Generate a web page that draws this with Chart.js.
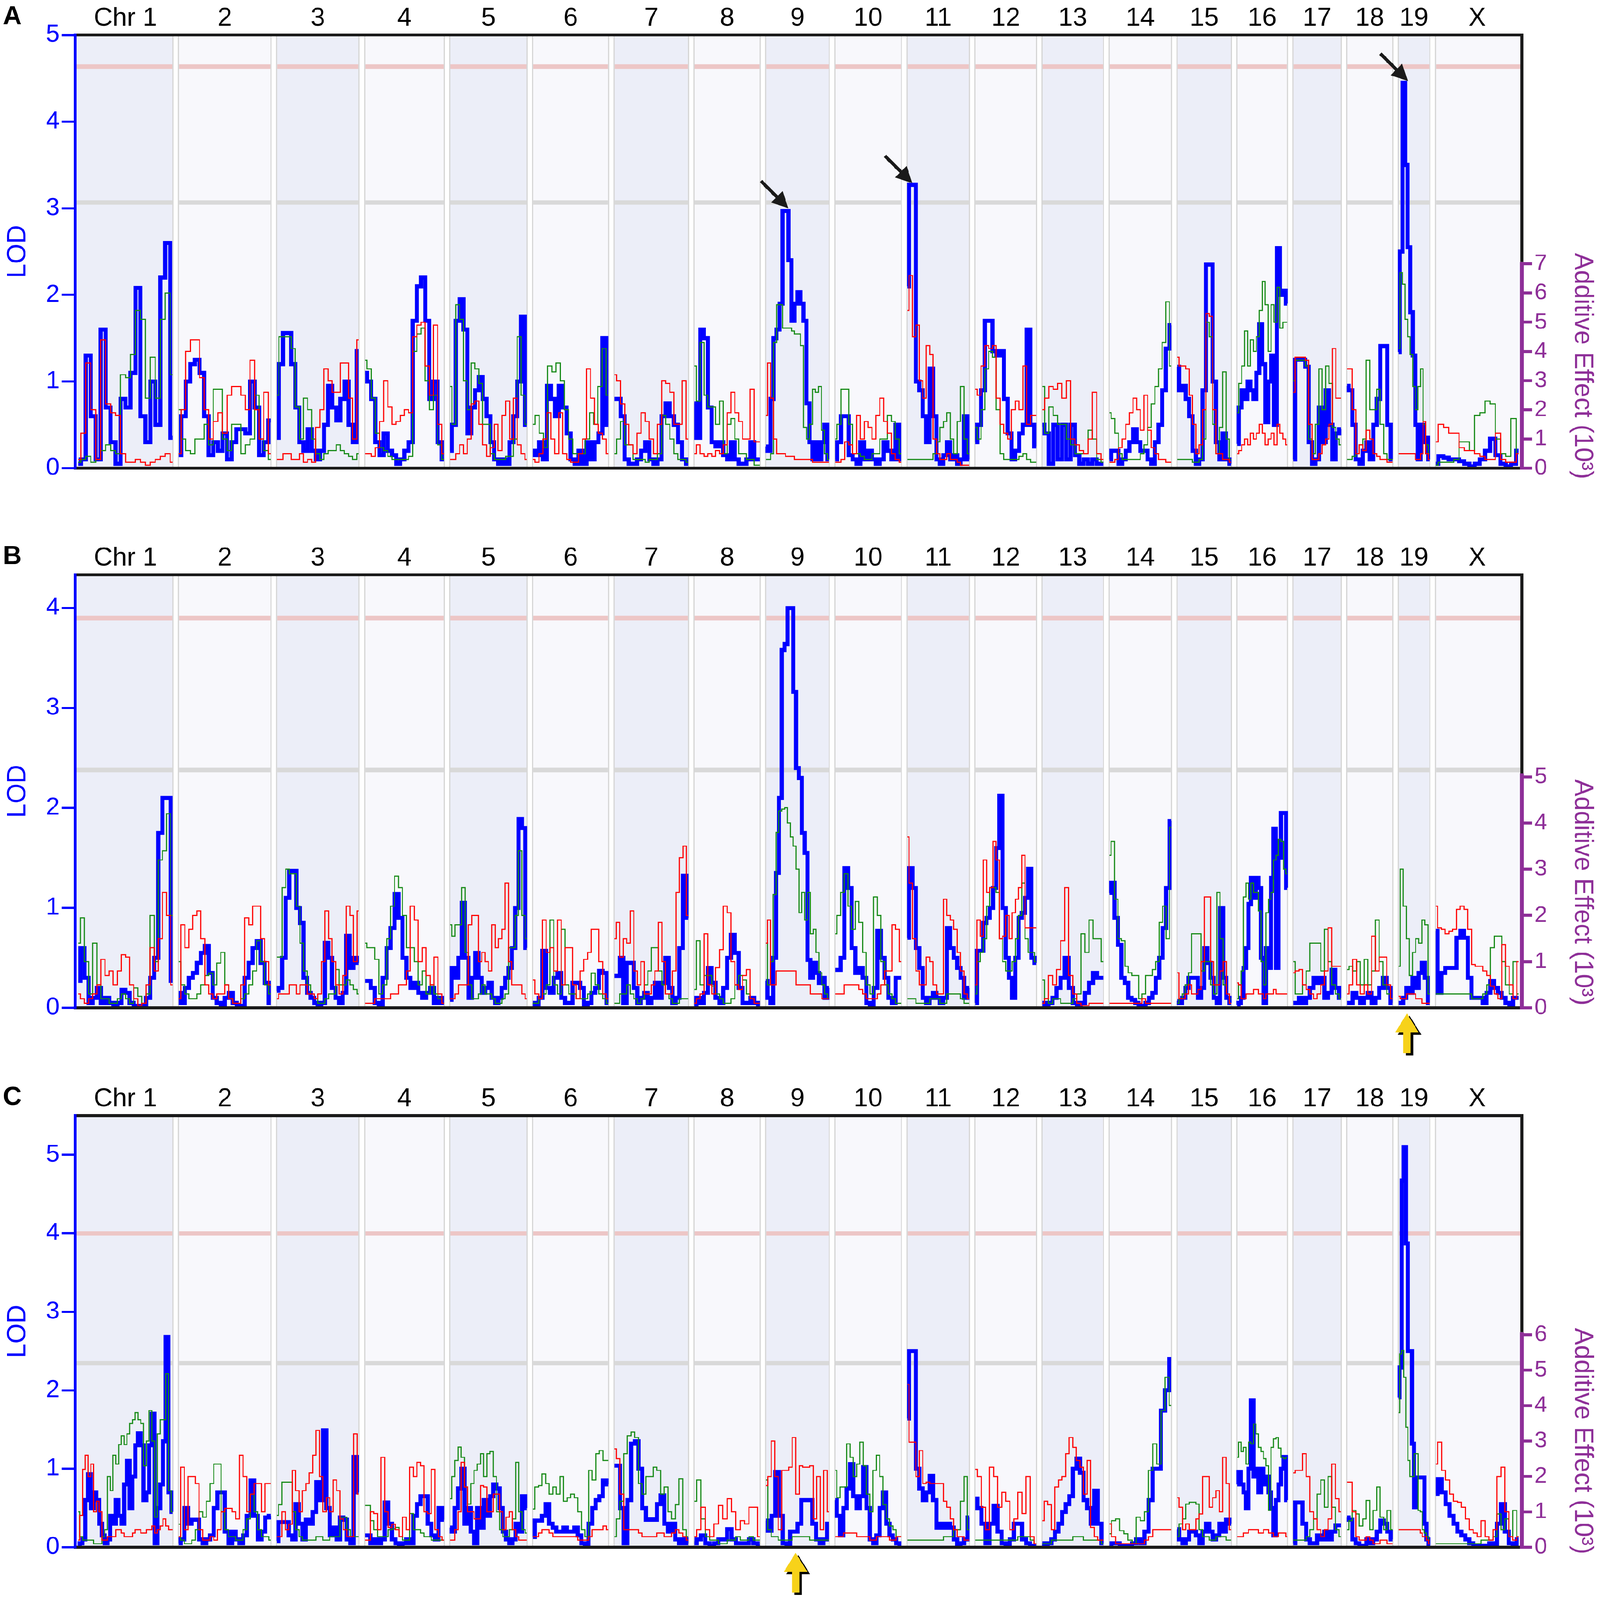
<!DOCTYPE html>
<html>
<head>
<meta charset="utf-8">
<title>LOD scans</title>
<script src="https://cdn.jsdelivr.net/npm/chart.js@4.4.1/dist/chart.umd.min.js"></script>
<style>
  html, body { margin: 0; padding: 0; background: #fff; overflow: hidden; }
  #page { position: absolute; left: 0; top: 0; width: 4317px; height: 4337px; transform-origin: 0 0; }
  #page canvas { position: absolute; left: 0; }
</style>
</head>
<body>
<div id="page">
<canvas id="chartA" width="4317" height="1445" style="top:0px;width:4317px;height:1445px"></canvas>
<canvas id="chartB" width="4317" height="1445" style="top:1445px;width:4317px;height:1445px"></canvas>
<canvas id="chartC" width="4317" height="1447" style="top:2890px;width:4317px;height:1447px"></canvas>
</div>
<script>
// chromosome labels and lengths (x axis units, roughly Mb)
const chrNames = ['Chr 1','2','3','4','5','6','7','8','9','10','11','12','13','14','15','16','17','18','19','X'];
const chrLengths = [195,190,171,165,161,158,155,139,134,140,132,130,130,132,116,109,104,100,72,173];

// panel A: LOD (blue) and additive effects x10^3 (red, green), one array per chromosome
const lodA = [
  [0.05,0.1,1.3,0.6,0.1,1.6,0.7,0.3,0.05,0.8,0.7,1.1,2.08,0.6,0.3,1.0,0.5,2.2,2.6,0.35],
  [0.15,0.6,1.0,1.2,1.25,1.1,0.6,0.15,0.3,0.2,0.4,0.1,0.3,0.45,0.45,0.4,1.0,0.7,0.15,0.3,0.55],
  [0.35,1.2,1.56,1.56,1.2,0.7,0.3,0.2,0.45,0.2,0.1,0.2,0.5,0.95,0.7,0.55,0.8,1.0,0.5,0.3,1.35],
  [1.1,1.0,0.8,0.3,0.15,0.4,0.2,0.15,0.05,0.1,0.2,0.3,1.7,2.1,2.2,1.7,0.8,1.0,0.3,0.1],
  [0.2,0.5,1.7,1.95,1.6,0.4,0.7,0.9,1.05,0.8,0.6,0.3,0.1,0.05,0.1,0.05,0.3,0.6,1.0,1.75,0.5],
  [0.2,0.15,0.3,0.1,0.95,0.8,0.6,0.95,0.7,0.4,0.1,0.05,0.2,0.05,0.3,0.1,0.3,0.4,1.5,0.5],
  [0.8,0.8,0.6,0.1,0.05,0.05,0.1,0.2,0.3,0.1,0.05,0.1,0.6,0.75,0.6,0.5,0.3,0.1,0.05],
  [0.75,0.35,1.6,1.5,0.7,0.3,0.25,0.3,0.15,0.1,0.3,0.1,0.05,0.05,0.1,0.3,0.1,0.1],
  [0.25,0.2,0.8,1.5,1.6,1.9,2.97,2.97,2.4,1.7,1.9,2.03,1.9,1.7,0.75,0.3,0.1,0.3,0.1,0.3,0.5,0.1],
  [0.1,0.3,0.6,0.6,0.15,0.1,0.05,0.3,0.1,0.2,0.1,0.05,0.1,0.3,0.2,0.1,0.5,0.1],
  [2.1,3.27,3.27,1.0,0.9,0.6,0.3,1.15,0.6,0.1,0.05,0.15,0.3,0.1,0.15,0.05,0.1,0.6,0.1],
  [0.3,0.5,0.9,1.7,1.7,1.35,1.3,1.35,0.8,0.4,0.1,0.2,0.4,0.5,1.6,0.5,0.25],
  [0.5,0.4,0.05,0.5,0.1,0.5,0.1,0.5,0.15,0.05,0.1,0.05,0.1,0.05,0.05],
  [0.1,0.2,0.2,0.05,0.1,0.2,0.3,0.45,0.3,0.2,0.2,0.1,0.05,0.3,0.5,0.9,1.38,1.65],
  [1.17,0.9,0.95,0.8,0.6,0.2,0.05,0.1,0.9,2.35,2.35,1.0,0.3,0.1,0.4,0.1,0.05],
  [0.28,0.7,0.9,0.8,1.0,0.9,0.8,1.1,1.66,1.2,0.53,1.0,1.3,0.5,2.54,2.0,2.05,1.9],
  [0.1,1.25,1.25,1.25,1.17,0.3,0.05,0.1,0.7,0.3,0.9,0.5,0.1,0.4,0.45],
  [0.95,0.9,0.5,0.1,0.05,0.2,0.3,0.1,0.5,0.8,1.41,1.41,0.5,0.1],
  [1.34,2.5,4.45,3.5,2.55,1.8,1.3,0.5,0.1,0.5,0.3,0.35,0.1],
  [0.05,0.14,0.12,0.1,0.1,0.08,0.05,0.02,0.05,0.1,0.2,0.34,0.15,0.05,0.02,0.05,0.2]
];
const redA = [
  [0.3,1.2,3.6,2.0,0.3,4.4,2.2,1.9,1.8,0.5,0.2,0.2,0.3,0.2,0.1,0.2,0.3,0.4,0.5,0.2],
  [0.5,2.0,4.0,4.4,4.4,3.1,2.0,1.0,1.6,1.9,1.2,2.5,2.8,2.8,2.5,2.0,3.7,2.0,1.0,2.6,0.5],
  [0.3,0.3,0.5,0.5,0.3,0.3,0.5,0.2,0.3,0.2,1.4,2.0,3.4,3.0,2.6,2.6,3.6,3.6,2.4,1.0,4.4],
  [0.5,0.5,0.4,0.7,1.6,3.0,2.1,1.5,1.6,1.8,2.0,1.9,4.5,4.9,5.0,3.5,2.5,4.9,1.5,0.5],
  [0.3,0.3,0.5,0.8,0.5,1.0,2.2,2.3,1.5,0.8,0.4,0.7,1.5,0.6,1.8,2.3,1.0,2.4,0.8,0.5,0.3],
  [0.3,0.2,0.5,1.0,1.9,1.0,0.5,1.9,0.5,0.3,0.2,0.2,0.5,1.0,3.4,2.4,1.5,1.2,1.0,0.5],
  [3.2,3.0,2.2,1.5,0.8,0.5,1.2,1.9,1.6,1.0,0.5,1.5,3.0,2.9,2.6,1.5,1.5,3.0,1.0],
  [0.5,0.8,0.5,0.4,0.5,0.4,0.6,0.5,0.8,1.9,2.6,1.9,1.6,1.0,1.0,2.7,0.9,0.9],
  [1.8,3.6,2.4,1.0,0.5,0.5,0.5,0.4,0.4,0.4,0.3,0.3,0.3,0.3,0.3,0.3,0.2,0.2,0.2,0.2,0.2,0.2],
  [0.2,0.2,0.3,0.9,0.8,0.5,1.8,1.0,1.6,1.4,1.0,1.8,2.4,1.6,1.2,0.5,0.3,0.2],
  [5.4,6.6,4.5,4.9,3.0,2.4,4.2,3.9,1.0,0.5,0.3,0.3,0.5,0.3,0.3,0.2,0.1,0.1,0.1],
  [2.7,2.5,3.5,4.2,4.1,4.2,2.4,1.5,1.2,1.0,2.0,2.3,2.0,3.5,1.5,1.8,1.8],
  [2.0,2.4,2.8,2.7,2.9,2.4,3.0,1.0,0.8,0.6,0.5,1.0,2.6,0.5,0.3],
  [0.2,0.2,0.3,0.7,1.0,1.5,1.9,2.4,2.0,1.3,2.5,1.3,0.7,0.5,0.3,0.3,0.2,0.2],
  [3.8,3.5,3.5,3.4,2.5,1.5,0.5,0.8,2.0,5.3,5.2,2.0,0.5,0.5,0.3,0.3,0.2],
  [0.5,0.6,0.8,1.0,0.8,1.2,1.0,1.2,1.5,1.2,0.8,1.0,1.2,0.8,1.5,1.2,1.0,0.8],
  [2.6,3.8,3.8,3.8,3.7,1.5,0.3,0.3,0.5,0.8,1.0,1.5,4.1,2.4,2.4],
  [3.4,3.4,2.0,0.5,0.8,0.6,1.3,1.0,0.5,0.4,0.3,0.3,0.2,0.2],
  [0.5,0.5,0.5,0.5,0.5,0.5,0.5,0.3,0.3,0.5,1.6,0.5,0.3],
  [0.9,1.5,1.4,1.2,1.2,0.7,0.6,0.6,0.5,0.4,0.3,0.3,1.2,0.3,0.2,0.2,0.5]
];
const greenA = [
  [0.2,0.3,0.4,0.2,0.3,0.6,0.8,0.6,0.5,3.2,3.1,3.9,5.4,5.1,2.4,3.8,2.4,5.1,6.0,3.2],
  [2.0,1.0,0.6,0.5,1.0,1.0,1.5,0.8,2.7,2.7,1.0,0.6,1.5,1.5,0.5,0.8,1.0,2.5,1.0,0.6,0.3],
  [2.5,4.5,4.5,4.5,4.1,2.1,1.0,2.4,2.0,1.0,0.5,0.3,0.5,0.6,0.6,0.8,0.6,0.5,0.4,0.3,0.5],
  [3.7,3.4,2.4,1.2,0.7,0.6,0.4,0.3,0.3,0.3,0.3,0.4,4.0,4.6,4.8,3.0,2.0,2.5,0.8,0.3],
  [2.8,1.5,5.6,5.1,3.0,2.0,3.6,3.4,2.9,1.5,1.5,0.5,0.3,0.3,0.3,0.4,0.4,1.0,4.5,2.5,1.5],
  [1.5,1.8,1.2,0.7,3.5,3.3,3.6,3.0,2.0,1.0,0.5,0.5,0.5,1.0,1.9,1.5,2.8,4.1,2.5],
  [0.5,1.0,1.6,0.8,0.8,0.3,0.3,0.3,0.2,0.3,0.3,0.5,1.8,1.5,1.0,0.5,0.3,0.3,0.2],
  [3.5,2.3,4.3,2.5,2.1,2.1,1.5,2.3,0.5,1.5,1.7,1.0,0.5,0.5,0.3,0.3,0.1,0.1],
  [0.3,0.3,0.5,4.3,5.6,5.6,4.8,4.8,4.8,4.7,4.6,4.6,4.2,1.4,1.0,1.5,2.7,2.6,2.8,1.3,0.5,0.3],
  [1.0,1.5,2.7,2.7,1.5,0.5,0.5,0.4,0.3,0.3,0.5,0.5,1.0,1.0,1.8,1.6,1.0,0.5],
  [0.3,0.3,0.3,0.3,0.3,0.3,0.3,0.3,0.5,0.9,1.4,1.6,1.9,1.0,0.5,1.6,2.8,1.0,0.5],
  [1.4,1.0,2.0,3.4,4.0,3.8,2.0,0.5,0.3,0.3,0.3,0.3,0.4,0.5,0.3,0.2,0.2],
  [2.8,1.2,2.1,1.8,1.5,1.5,1.0,0.8,0.5,0.5,0.5,1.3,1.0,0.3,0.2],
  [1.9,1.7,1.2,0.5,0.3,0.3,0.3,0.3,0.3,0.5,0.8,1.4,2.2,2.8,3.4,4.3,5.7,3.5],
  [0.3,0.3,0.3,0.3,0.3,0.2,0.2,0.3,1.0,5.0,4.5,1.5,0.5,1.4,3.3,1.0,0.3],
  [1.9,2.9,3.5,4.7,3.5,4.4,4.0,4.5,5.4,6.4,5.6,4.0,5.6,5.0,6.2,4.8,5.0,5.0],
  [3.0,3.7,3.7,3.7,3.5,1.0,0.5,1.5,3.4,2.0,3.5,2.9,1.4,1.0,0.8],
  [0.3,0.3,0.4,0.5,0.8,1.0,3.7,2.0,2.0,2.7,1.5,0.5,0.3,0.3],
  [4.1,6.7,6.3,5.1,4.5,3.9,2.8,2.0,2.8,3.4,1.5,0.8,0.5],
  [0.1,0.2,0.2,0.2,0.3,0.9,0.9,0.6,1.8,1.9,2.3,2.2,1.0,0.5,0.4,1.7,0.5]
];

// panel B
const lodB = [
  [0.27,0.6,0.3,0.05,0.1,0.2,0.05,0.1,0.05,0.02,0.05,0.18,0.15,0.05,0.02,0.01,0.02,0.1,0.3,0.5,1.75,2.1,2.1,0.27],
  [0.15,0.05,0.2,0.3,0.35,0.45,0.55,0.62,0.35,0.1,0.05,0.02,0.1,0.15,0.05,0.02,0.02,0.3,0.45,0.6,0.67,0.45,0.25,0.05],
  [0.17,0.2,0.5,1.1,1.37,1.37,1.0,0.85,0.3,0.15,0.1,0.05,0.02,0.05,0.65,0.5,0.2,0.1,0.05,0.15,0.72,0.4,0.5,0.45],
  [0.27,0.27,0.2,0.05,0.02,0.3,0.6,0.8,1.14,0.9,0.5,0.3,0.2,0.25,0.15,0.1,0.15,0.2,0.05,0.1,0.05],
  [0.08,0.4,0.3,0.5,1.05,0.5,0.1,0.3,0.55,0.3,0.15,0.2,0.25,0.1,0.05,0.1,0.2,0.3,0.4,0.6,1.0,1.89,1.8,0.6],
  [0.05,0.02,0.1,0.57,0.2,0.15,0.3,0.35,0.1,0.05,0.05,0.25,0.25,0.2,0.02,0.05,0.15,0.2,0.37,0.35,0.05],
  [0.32,0.32,0.5,0.05,0.45,0.45,0.2,0.05,0.1,0.15,0.05,0.1,0.25,0.1,0.25,0.5,0.2,0.05,0.1,0.6,1.32,0.9],
  [0.02,0.1,0.05,0.15,0.4,0.25,0.1,0.05,0.2,0.5,0.73,0.55,0.2,0.05,0.05,0.1,0.05,0.02],
  [0.27,0.1,0.05,0.5,1.35,2.1,3.58,3.64,4.0,4.0,3.16,2.4,2.3,1.75,1.55,0.48,0.3,0.45,0.35,0.25,0.3,0.1,0.2],
  [0.38,0.38,0.5,1.4,1.2,0.6,0.35,0.4,0.3,0.05,0.02,0.2,0.77,0.5,0.3,0.1,0.05,0.3,0.3],
  [0.7,1.4,1.2,0.6,0.4,0.1,0.05,0.1,0.15,0.1,0.05,0.1,0.8,0.6,0.5,0.4,0.3,0.1,0.2],
  [0.05,0.57,0.57,0.85,0.9,1.0,1.2,1.6,2.12,1.0,0.5,0.3,0.1,0.5,0.9,0.95,1.1,1.39,0.5,0.45],
  [0.05,0.02,0.05,0.1,0.2,0.3,0.5,0.2,0.05,0.02,0.05,0.15,0.25,0.35,0.3,0.3],
  [1.15,1.25,0.9,0.63,0.3,0.25,0.1,0.08,0.05,0.02,0.02,0.05,0.1,0.15,0.3,0.5,0.8,1.2,1.87],
  [0.07,0.05,0.1,0.2,0.3,0.3,0.3,0.1,0.2,0.6,0.45,0.3,0.1,0.05,1.0,0.3,0.1,0.05],
  [0.03,0.05,0.1,0.4,0.6,1.04,1.3,1.1,1.3,1.2,0.5,0.05,0.6,0.4,1.3,1.79,0.4,1.5,1.95,1.95,1.2],
  [0.05,0.05,0.1,0.05,0.1,0.2,0.3,0.25,0.3,0.1,0.15,0.38,0.2,0.1],
  [0.05,0.05,0.15,0.1,0.05,0.1,0.15,0.05,0.1,0.2,0.3,0.2,0.05],
  [0.05,0.05,0.1,0.2,0.15,0.3,0.2,0.35,0.45,0.3,0.05],
  [0.77,0.15,0.35,0.4,0.4,0.4,0.7,0.77,0.7,0.3,0.1,0.1,0.1,0.05,0.15,0.27,0.2,0.15,0.1,0.05,0.02,0.1,0.1]
];
const redB = [
  [0.3,0.2,0.1,0.2,0.3,0.5,1.05,0.7,0.8,0.5,0.8,1.15,1.1,0.5,0.2,0.05,0.1,0.5,1.3,0.8,1.5,2.5,2.0,0.5],
  [0.2,1.8,1.3,1.7,2.0,2.1,1.5,0.5,0.3,0.2,0.3,0.3,0.5,0.2,0.1,0.1,0.5,1.95,1.8,2.2,2.2,1.5,1.0,0.5],
  [0.2,0.3,0.3,0.3,0.5,0.5,0.3,0.5,0.5,0.3,0.3,0.2,0.3,1.0,2.1,1.5,1.0,0.5,0.3,0.7,2.2,2.0,1.0,2.1],
  [0.1,0.1,0.1,0.2,0.2,0.2,0.2,0.3,0.3,0.5,0.5,0.8,2.2,1.9,1.0,1.3,0.7,0.5,1.1,0.3,0.1],
  [0.2,0.2,0.3,0.5,0.5,0.5,1.8,2.0,2.0,1.0,1.2,1.0,0.8,1.8,1.3,1.5,1.7,2.7,1.0,0.5,0.5,0.5,0.3,0.2],
  [0.6,0.3,0.2,1.9,1.2,1.3,0.8,1.9,0.5,1.3,1.3,0.5,0.2,0.8,1.05,1.2,1.7,1.7,1.0,0.3,0.2],
  [1.5,1.85,1.1,1.5,1.4,2.1,0.8,0.5,1.0,0.3,0.3,0.5,0.8,1.85,1.0,0.3,0.3,0.8,2.5,3.25,3.5,2.0],
  [0.1,0.2,0.3,1.6,0.5,0.3,0.87,1.26,2.2,2.06,1.0,0.5,0.4,0.7,0.83,0.2,0.1,0.1],
  [1.4,1.9,0.5,0.5,0.8,0.8,0.8,0.8,0.8,0.8,0.8,0.5,0.5,0.5,0.5,0.5,0.3,0.3,0.3,0.3,0.2,0.2,0.2],
  [0.3,0.3,0.3,0.5,0.5,0.5,0.5,0.4,0.3,0.2,0.2,0.2,0.3,0.5,0.8,0.8,1.8,1.7,1.0],
  [3.7,2.7,1.5,0.8,0.5,0.5,1.1,1.0,0.5,0.3,0.3,2.35,2.0,1.9,1.7,1.2,0.8,0.3,0.2],
  [0.5,1.9,1.55,3.2,2.5,2.6,3.6,3.2,1.5,1.55,2.0,1.5,2.06,2.35,2.6,3.3,1.73,1.73,1.73,1.73],
  [0.1,0.2,0.7,0.5,0.83,1.45,2.6,0.7,0.3,0.1,0.05,0.05,0.1,0.1,0.1,0.1],
  [0.1,0.1,0.1,0.1,0.1,0.1,0.1,0.1,0.1,0.1,0.2,0.1,0.1,0.1,0.1,0.1,0.1,0.1,0.1],
  [0.76,0.2,0.2,0.3,0.5,0.3,0.3,0.4,1.0,2.4,2.4,1.0,0.5,0.5,0.8,1.0,0.3,0.1],
  [0.54,0.5,0.2,0.2,0.3,0.3,0.3,0.4,0.4,0.3,0.3,0.2,0.3,0.3,0.3,0.4,0.3,0.3,0.3,0.3,0.3],
  [0.76,0.8,0.83,0.5,0.4,0.3,0.2,0.3,0.5,0.8,1.73,0.9,0.9,0.9],
  [0.3,0.5,1.05,0.5,0.3,0.5,0.3,1.55,0.8,1.1,1.1,0.5,0.2],
  [0.25,0.2,0.2,0.3,0.3,0.3,0.2,0.2,0.1,0.1,0.1],
  [2.2,1.73,1.7,1.6,1.66,1.7,2.13,2.2,2.13,1.7,0.94,0.9,0.9,0.8,0.7,0.47,0.3,0.2,1.37,0.9,0.5,0.2,1.0]
];
const greenB = [
  [1.4,1.95,1.0,0.3,1.4,0.5,0.2,0.2,0.1,0.1,0.2,0.3,0.2,0.1,0.43,0.25,0.1,0.3,2.0,1.0,3.2,3.4,4.2,2.0],
  [1.0,0.5,0.3,0.2,0.2,0.3,0.5,0.7,0.75,0.5,0.97,1.2,0.5,0.2,0.1,0.1,0.2,0.3,0.5,0.8,1.45,1.0,0.5,0.3],
  [1.1,1.1,2.6,3.0,2.9,2.9,2.2,1.4,0.8,0.5,0.3,0.2,0.1,0.1,0.2,0.3,0.3,0.83,0.5,0.5,0.6,0.5,0.4,0.3],
  [1.4,1.3,1.3,1.05,0.3,0.5,1.5,2.2,2.85,2.6,2.0,1.3,1.3,1.0,0.5,0.8,0.3,0.5,0.3,0.2,0.1],
  [1.8,1.55,1.8,1.8,2.6,1.2,0.5,0.2,0.2,0.3,0.5,0.3,0.3,0.2,0.1,0.1,0.2,0.3,1.3,1.3,2.0,3.4,2.0,1.5],
  [0.1,0.1,0.2,0.3,0.5,1.9,0.5,0.3,1.7,0.5,0.3,0.3,0.2,0.2,0.2,0.3,0.75,0.5,0.3,0.2,0.1],
  [0.1,0.1,0.3,0.3,0.5,0.3,0.2,0.1,0.2,0.5,0.8,1.3,1.3,0.8,0.5,0.3,0.2,0.1,0.1,0.2,0.2,0.2],
  [0.4,1.45,0.5,0.7,0.7,0.47,0.3,0.2,0.1,0.1,0.2,0.5,0.7,0.6,0.3,0.2,0.1,0.1],
  [1.4,0.5,1.0,2.45,3.8,4.26,4.3,4.33,4.0,3.7,3.5,3.0,2.06,2.5,1.9,2.5,1.6,1.7,1.2,0.76,0.5,0.3,0.2],
  [1.6,2.0,2.5,2.9,2.2,1.7,2.3,1.85,1.2,0.5,0.3,2.4,2.0,1.0,0.5,0.3,0.2,0.1,0.1],
  [0.2,0.2,0.2,0.1,0.1,0.1,0.1,0.2,0.2,0.2,0.1,0.1,0.3,0.3,0.3,0.3,0.2,0.1,0.1],
  [0.3,1.0,1.2,1.5,2.2,2.6,2.6,2.5,1.5,1.0,0.8,0.8,1.0,1.5,2.0,2.7,1.5,1.2,1.2,1.0],
  [0.6,0.2,0.1,0.2,0.2,0.1,0.1,0.1,0.2,0.3,1.6,1.2,1.9,1.5,1.5,1.0],
  [3.3,3.6,2.35,1.5,1.45,0.9,0.76,0.7,0.7,0.2,0.3,0.7,0.7,0.83,1.0,1.85,2.2,1.5,3.9],
  [0.1,0.2,0.3,0.5,0.76,1.6,1.6,1.6,0.8,1.0,1.0,0.5,0.3,2.5,1.5,0.5,0.3,0.2],
  [0.2,0.5,0.8,2.4,2.7,2.35,2.7,2.5,2.5,2.1,1.0,0.5,2.06,2.35,2.5,3.2,3.3,3.65,3.6,3.0,2.9],
  [1.0,0.3,0.3,0.5,0.8,1.4,1.4,1.4,0.8,1.7,1.0,0.5,0.3,0.2],
  [0.83,0.9,0.8,1.0,0.5,1.05,0.5,0.8,1.9,1.0,0.5,0.3,0.2],
  [0.9,3.0,2.2,1.5,0.7,1.2,1.5,1.4,1.9,1.8,0.3],
  [0.3,0.3,0.3,0.3,0.3,0.3,0.3,0.3,0.3,0.3,0.2,0.2,0.2,0.3,0.5,1.3,1.55,1.55,1.0,0.5,0.3,1.0,0.3]
];

// panel C
const lodC = [
  [0.02,0.05,0.1,0.6,0.93,0.5,0.7,0.6,0.3,0.15,0.05,0.1,0.4,0.3,0.6,0.4,0.3,0.8,1.1,0.5,0.9,1.3,1.45,1.3,0.6,0.7,1.3,1.7,0.05,0.5,0.8,1.35,2.68,0.7,0.45],
  [0.05,0.1,0.5,0.3,0.35,0.35,0.1,0.05,0.1,0.15,0.5,0.7,0.7,0.2,0.05,0.2,0.1,0.05,0.15,0.4,0.85,0.4,0.1,0.2,0.38,0.4],
  [0.08,0.32,0.32,0.32,0.15,0.1,0.55,0.3,0.1,0.35,0.3,0.45,0.83,0.6,1.49,0.5,0.15,0.25,0.1,0.38,0.35,0.1,0.05,1.15,0.7],
  [0.15,0.15,0.05,0.1,0.05,0.1,0.57,0.3,0.1,0.05,0.02,0.05,0.1,0.05,0.4,0.55,0.65,0.65,0.3,0.15,0.1,0.5,0.35],
  [0.25,0.2,0.5,0.75,1.0,0.3,0.5,0.2,0.05,0.5,0.25,0.6,0.4,0.65,0.8,0.75,0.5,0.2,0.1,0.05,0.1,0.3,0.2,0.65,0.5],
  [0.13,0.34,0.34,0.4,0.55,0.3,0.25,0.2,0.2,0.25,0.2,0.2,0.25,0.15,0.05,0.02,0.3,0.5,0.6,0.65,0.85,0.8],
  [1.04,1.04,0.5,0.05,0.6,1.32,1.35,1.0,0.5,0.35,0.36,0.35,0.55,0.66,0.3,0.2,0.3,0.1,0.05,0.1,0.05],
  [0.05,0.1,0.15,0.05,0.02,0.05,0.1,0.1,0.23,0.1,0.05,0.05,0.05,0.1,0.05,0.02],
  [0.34,0.21,0.4,0.96,0.4,0.05,0.02,0.2,0.2,0.3,0.6,0.6,0.6,0.3,0.1,0.05,0.1,0.3],
  [0.6,0.4,0.15,0.5,0.75,1.06,0.65,0.5,0.65,1.02,0.5,0.1,0.05,0.15,0.5,0.7,0.3,0.15,0.1,0.05,0.02],
  [1.64,2.5,2.5,1.0,0.75,0.6,0.7,0.91,0.6,0.25,0.3,0.25,0.3,0.25,0.1,0.02,0.05,0.1,0.38],
  [0.62,0.5,0.3,0.05,0.3,0.53,0.2,0.05,0.02,0.1,0.3,0.3,0.1,0.05,0.02,0.02],
  [0.05,0.02,0.05,0.1,0.2,0.3,0.45,0.55,0.65,1.0,1.13,0.95,0.6,0.5,0.3,0.72,0.3,0.05],
  [0.02,0.05,0.05,0.02,0.02,0.02,0.05,0.1,0.05,0.2,0.6,1.0,1.0,1.74,2.0,2.4],
  [0.23,0.1,0.05,0.1,0.2,0.2,0.15,0.05,0.2,0.3,0.2,0.1,0.15,0.3,0.2,0.35,0.3],
  [0.8,0.96,0.8,0.7,0.5,1.0,1.87,0.9,1.0,0.7,1.0,0.8,0.9,0.7,0.5,0.15,0.6,0.8,1.0,1.15,0.6],
  [0.05,0.57,0.57,0.3,0.1,0.05,0.05,0.15,0.1,0.2,0.1,0.2,0.28,0.28],
  [0.38,0.35,0.1,0.05,0.02,0.02,0.1,0.05,0.1,0.2,0.34,0.3,0.2,0.1],
  [1.91,2.29,4.67,5.1,3.87,2.5,2.5,1.32,0.51,0.89,0.89,0.89,0.89,0.3,0.1,0.02],
  [0.68,0.87,0.7,0.55,0.4,0.3,0.2,0.15,0.1,0.05,0.02,0.02,0.02,0.02,0.05,0.02,0.3,0.55,0.2,0.05,0.02,0.1]
];
const redC = [
  [0.2,0.9,2.2,2.6,2.0,2.35,1.0,1.3,1.0,0.2,0.2,0.3,0.3,0.3,0.5,0.5,0.4,0.3,0.3,0.3,0.4,0.5,0.5,0.4,0.4,0.5,0.5,0.6,0.4,0.5,0.6,0.8,0.6,0.5,0.5],
  [0.3,2.26,0.5,2.0,2.0,1.8,0.5,0.2,0.2,0.3,0.2,0.5,1.0,1.1,1.1,1.0,0.8,2.6,2.0,1.0,1.5,1.8,1.8,1.0,1.8,1.8],
  [0.3,0.3,1.0,0.5,0.65,2.17,1.6,1.0,1.6,1.8,2.1,2.6,3.3,2.0,1.0,1.4,1.0,1.9,1.6,0.8,0.5,0.3,0.3,3.2,1.5],
  [0.2,0.2,1.0,0.95,0.5,2.54,1.0,0.56,0.65,0.5,0.3,0.85,0.5,2.26,2.0,2.4,2.3,1.0,0.95,2.2,0.5,0.3,0.2],
  [0.2,0.2,0.5,1.0,2.4,1.7,1.0,1.0,0.8,0.8,1.74,1.7,1.0,1.0,1.5,1.5,1.0,0.5,0.85,1.0,0.5,0.3,0.2,0.2,0.2],
  [0.3,0.3,0.4,0.5,0.5,0.4,0.3,0.3,0.3,0.3,0.3,0.3,0.3,0.2,0.2,0.2,0.3,0.5,0.5,0.5,0.6,0.5],
  [2.78,2.5,1.5,0.5,0.5,0.5,0.5,0.4,0.3,0.3,0.3,0.3,0.4,0.4,0.3,0.3,0.4,0.5,0.4,0.3,0.2],
  [0.3,0.5,1.13,0.5,0.3,0.66,1.18,0.8,1.37,1.0,0.5,0.75,0.66,1.13,1.13,0.3],
  [1.74,2.0,3.0,2.0,0.5,2.17,2.17,2.26,3.1,1.5,2.3,2.26,2.26,2.3,0.8,2.0,0.5,2.17,1.0],
  [0.3,0.3,0.3,0.4,0.4,0.4,0.4,0.3,0.3,0.3,0.3,0.2,0.2,0.3,0.3,0.3,0.3,0.2,0.2,0.3,0.3],
  [4.6,2.97,2.97,2.0,2.73,1.8,1.84,1.8,1.8,1.8,1.8,1.3,1.13,0.8,0.5,0.3,0.3,0.2,0.2],
  [2.2,2.0,1.13,0.5,2.26,2.0,1.13,1.55,1.3,0.5,0.8,1.55,0.95,2.0,0.3,0.1],
  [0.75,1.3,1.2,0.5,1.7,1.9,2.0,2.64,3.1,2.82,2.45,2.26,1.5,2.45,0.56,0.3,0.2,0.2],
  [0.66,0.3,0.1,0.1,0.1,0.1,0.1,0.1,0.1,0.2,0.3,0.5,0.5,0.5,0.5,0.5],
  [1.4,1.13,0.5,0.66,0.5,0.5,0.8,0.94,2.0,2.0,1.13,1.4,1.6,1.0,2.54,1.8,0.5],
  [0.3,0.3,0.3,0.4,0.4,0.5,0.5,0.5,0.5,0.4,0.4,0.5,0.5,0.4,0.4,0.3,0.3,0.4,0.4,0.4,0.3],
  [2.1,2.17,2.17,2.64,2.0,1.0,0.8,0.5,0.3,0.5,0.8,2.35,1.37,1.0],
  [1.84,1.84,1.0,0.3,0.2,0.2,0.3,0.2,0.1,0.1,0.2,0.2,0.1,0.1],
  [0.5,0.5,0.5,0.5,0.5,0.5,0.5,0.5,0.5,0.5,0.5,0.4,0.3,0.3,0.2,0.1],
  [2.35,2.97,2.17,1.9,1.5,1.3,1.27,1.13,0.8,0.5,0.4,0.3,0.75,0.3,0.2,0.5,2.0,2.26,1.0,0.3,0.2,0.3]
];
const greenC = [
  [1.0,0.3,0.2,0.2,0.2,0.2,0.1,0.1,0.1,0.3,0.5,2.0,1.6,2.6,2.35,2.9,3.15,2.9,3.2,3.5,3.6,3.8,3.6,3.5,2.3,3.0,3.86,3.0,0.85,3.2,3.6,3.6,4.9,1.6,1.0],
  [0.65,0.2,0.1,0.1,0.2,0.5,1.0,0.85,1.3,1.8,2.35,2.35,1.0,0.5,0.3,0.3,0.2,0.2,0.5,0.8,1.5,1.0,0.5,0.3,0.3,0.2],
  [0.9,1.2,1.84,1.84,1.84,1.0,0.5,0.3,0.2,0.2,0.2,0.2,0.3,0.3,0.2,0.2,0.3,0.3,0.3,0.85,0.85,0.5,0.3,0.3,0.3],
  [1.18,1.18,0.75,0.5,0.3,0.3,0.3,0.5,0.52,0.56,0.3,0.2,0.2,0.95,0.5,0.5,0.4,0.3,0.3,0.2,0.2,0.2,0.2],
  [1.37,2.0,2.45,2.83,2.54,1.7,1.22,1.8,2.17,2.35,2.64,2.0,2.64,2.7,2.0,1.0,0.5,0.3,0.3,0.5,0.8,2.4,1.0,0.5,0.4],
  [1.08,1.7,1.74,2.07,1.8,1.5,1.7,1.5,2.0,1.3,1.4,1.5,1.4,1.0,0.5,0.3,2.17,1.9,2.64,2.73,2.45,2.45],
  [0.3,0.8,1.3,2.64,3.15,3.25,3.1,1.8,1.5,2.0,2.0,2.26,2.17,1.5,1.7,1.0,0.8,1.2,1.93,0.5,0.3],
  [1.3,1.9,0.8,0.3,0.2,0.2,0.1,0.1,0.2,0.2,0.3,0.2,0.2,0.3,0.2,0.2],
  [1.9,0.5,0.3,0.3,0.2,0.2,0.2,0.2,0.3,0.3,0.3,0.3,0.3,0.2,0.2,0.2,0.2,0.2,0.2],
  [2.17,1.4,1.7,1.7,2.92,2.54,2.0,2.35,2.97,2.3,1.5,1.0,2.17,2.6,2.0,1.2,0.8,0.6,0.5,0.3,0.3],
  [0.2,0.2,0.2,0.2,0.2,0.2,0.2,0.2,0.2,0.2,0.2,0.3,0.3,0.3,0.5,0.5,1.3,2.0,0.5],
  [0.2,0.2,0.2,0.2,0.2,0.2,0.2,0.2,0.2,0.2,0.2,0.3,0.3,0.3,0.2,0.1],
  [0.1,0.1,0.1,0.2,0.2,0.2,0.2,0.2,0.2,0.3,0.3,0.3,0.2,0.2,0.2,0.2,0.2,0.1],
  [0.38,0.75,0.8,0.47,0.38,0.2,0.1,0.85,0.75,1.0,2.17,2.92,2.35,3.86,4.8,4.0],
  [0.3,0.66,0.8,1.22,1.27,1.27,1.22,0.5,0.3,0.3,0.2,0.2,0.3,0.3,0.3,0.2,0.2],
  [2.54,2.97,2.7,2.82,2.35,2.97,2.92,3.48,3.2,2.82,2.7,2.5,2.3,1.04,2.82,3.06,3.1,2.8,2.54,2.5,2.54],
  [0.2,0.2,0.2,0.2,0.3,0.5,0.8,1.5,1.9,1.13,2.0,1.13,0.5,0.3],
  [0.5,0.75,1.04,0.94,0.6,0.8,1.32,0.5,1.04,1.7,0.85,0.5,1.04,0.5],
  [3.8,5.46,5.56,4.8,3.39,2.45,2.0,2.0,2.64,2.64,1.04,1.0,0.5,0.4,0.3,0.2],
  [0.1,0.1,0.1,0.1,0.1,0.1,0.1,0.1,0.1,0.1,0.1,0.1,0.2,0.2,0.2,0.3,0.94,0.5,0.8,0.3,1.04,0.3]
];

// axis ranges and significance thresholds per panel (A, B, C)
const lodMax = [5, 4.333, 5.5];
const addMax = [14.84, 9.37, 12.19];
const addTickMax = [7, 5, 6];
const thresholdHigh = [4.636, 3.90, 4.0];
const thresholdLow = [3.067, 2.38, 2.345];
// arrows: [chromosome index, position within chromosome (0-1), LOD]
const blackArrowsA = [[8, 0.355, 3.0], [10, 0.082, 3.29], [18, 0.30, 4.47]];
const yellowArrowB = [18, 0.27];
const yellowArrowC = [8, 0.47];

const FONT = "'Liberation Sans', Arial, sans-serif";
const BLUE = '#0000ff';
const PURPLE = '#8e2f98';
const EDGE = 6;

// the layout is drawn at 4317 x 4337 and stretched onto the real viewport
const page = document.getElementById('page');
const sx = window.innerWidth / 4317, sy = window.innerHeight / 4337;
if (Math.abs(sx - 1) > 0.001 || Math.abs(sy - 1) > 0.001) {
  page.style.transform = 'scale(' + sx + ',' + sy + ')';
}

const chrStarts = [];
let genomeLen = 0;
chrLengths.forEach(l => { chrStarts.push(genomeLen); genomeLen += l; });
const chrCenters = chrLengths.map((l, i) => chrStarts[i] + l / 2);

function toPoints(perChr) {
  const pts = [];
  perChr.forEach((vals, c) => {
    const a = chrStarts[c] + EDGE, b = chrStarts[c] + chrLengths[c] - EDGE;
    vals.forEach((v, i) => pts.push({ x: a + (b - a) * i / (vals.length - 1), y: v }));
    pts.push({ x: chrStarts[c] + chrLengths[c], y: null });
  });
  return pts;
}

function chrPos(c, frac) {
  return chrStarts[c] + EDGE + (chrLengths[c] - 2 * EDGE) * frac;
}

const decor = {
  id: 'decor',
  beforeDraw(chart, args, o) {
    const { ctx, chartArea: ca, scales } = chart;
    const xs = scales.x, y = scales.y;
    const h = ca.bottom - ca.top;
    ctx.save();
    chrLengths.forEach((len, c) => {
      const x0 = xs.getPixelForValue(chrStarts[c]), x1 = xs.getPixelForValue(chrStarts[c] + len);
      ctx.fillStyle = c % 2 === 0 ? '#eceef8' : '#f8f8fc';
      ctx.fillRect(x0, ca.top, x1 - x0, h);
    });
    [[thresholdHigh[o.p], '#edc6c6'], [thresholdLow[o.p], '#d9d9d9']].forEach(([v, col]) => {
      const py = y.getPixelForValue(v);
      ctx.fillStyle = col;
      ctx.fillRect(ca.left, py - 6, ca.right - ca.left, 12);
    });
    for (let c = 1; c < chrLengths.length; c++) {
      const xb = xs.getPixelForValue(chrStarts[c]);
      ctx.fillStyle = '#ffffff';
      ctx.fillRect(xb - 9, ca.top, 18, h);
      ctx.fillStyle = '#d4d4d4';
      ctx.fillRect(xb - 9, ca.top, 3, h);
      ctx.fillRect(xb + 6, ca.top, 3, h);
    }
    ctx.restore();
  },
  afterDraw(chart, args, o) {
    const { ctx, chartArea: ca, scales } = chart;
    const xs = scales.x, y = scales.y, y2 = scales.y2;
    const p = o.p;
    ctx.save();
    // right frame: black above the additive axis, purple along it
    const yAxisTop = y2.getPixelForValue(addTickMax[p] + 0.07);
    ctx.lineWidth = 8;
    ctx.strokeStyle = '#1a1a1a';
    ctx.beginPath(); ctx.moveTo(ca.right, ca.top - 4); ctx.lineTo(ca.right, yAxisTop); ctx.stroke();
    ctx.lineWidth = 10;
    ctx.strokeStyle = PURPLE;
    ctx.beginPath(); ctx.moveTo(ca.right, yAxisTop); ctx.lineTo(ca.right, ca.bottom + 4); ctx.stroke();
    // right axis title
    const yMid = (y2.getPixelForValue(0) + y2.getPixelForValue(addTickMax[p])) / 2;
    ctx.translate(4269, yMid);
    ctx.rotate(Math.PI / 2);
    ctx.fillStyle = PURPLE;
    ctx.font = '70px ' + FONT;
    ctx.textAlign = 'center';
    ctx.textBaseline = 'middle';
    ctx.fillText('Additive Effect (10³)', 0, 0);
    ctx.setTransform(1, 0, 0, 1, 0, 0);
    // panel letter
    ctx.fillStyle = '#000';
    ctx.font = 'bold 70px ' + FONT;
    ctx.textAlign = 'left';
    ctx.textBaseline = 'alphabetic';
    ctx.fillText(o.letter, 8, ca.top - 29);
    // black arrows at peaks
    (o.black || []).forEach(([c, f, lod]) => {
      const tx = xs.getPixelForValue(chrPos(c, f)), ty = y.getPixelForValue(lod);
      const d = Math.SQRT1_2, L = 44, W = 22;
      const bx = tx - d * L, by = ty - d * L;
      ctx.strokeStyle = '#1a1a1a';
      ctx.lineWidth = 9;
      ctx.beginPath(); ctx.moveTo(tx - 74, ty - 74); ctx.lineTo(bx + 2, by + 2); ctx.stroke();
      ctx.fillStyle = '#1a1a1a';
      ctx.beginPath();
      ctx.moveTo(tx, ty);
      ctx.lineTo(bx - d * W, by + d * W);
      ctx.lineTo(bx + d * W, by - d * W);
      ctx.closePath(); ctx.fill();
    });
    // yellow arrow under the axis
    if (o.yellow) {
      const tx = xs.getPixelForValue(chrPos(o.yellow[0], o.yellow[1]));
      const ty = ca.bottom + 15;
      const shape = (dx, dy) => {
        ctx.beginPath();
        ctx.moveTo(tx + dx, ty + dy);
        ctx.lineTo(tx + 32 + dx, ty + 52 + dy);
        ctx.lineTo(tx + 10 + dx, ty + 52 + dy);
        ctx.lineTo(tx + 10 + dx, ty + 108 + dy);
        ctx.lineTo(tx - 10 + dx, ty + 108 + dy);
        ctx.lineTo(tx - 10 + dx, ty + 52 + dy);
        ctx.lineTo(tx - 32 + dx, ty + 52 + dy);
        ctx.closePath();
        ctx.fill();
      };
      ctx.fillStyle = '#000';
      shape(7, 6);
      ctx.fillStyle = '#f7d21a';
      shape(0, 0);
    }
    ctx.restore();
  }
};

function makePanel(id, p, letter, lod, red, green, areaTop, areaBottom, extra) {
  const canvas = document.getElementById(id);
  const H = canvas.height;
  return new Chart(canvas, {
    type: 'line',
    data: {
      datasets: [
        { label: 'red', data: toPoints(red), yAxisID: 'y2', borderColor: '#ff0000', borderWidth: 3, stepped: 'middle', pointRadius: 0, spanGaps: false },
        { label: 'green', data: toPoints(green), yAxisID: 'y2', borderColor: '#168a16', borderWidth: 3, stepped: 'middle', pointRadius: 0, spanGaps: false },
        { label: 'LOD', data: toPoints(lod), yAxisID: 'y', borderColor: BLUE, borderWidth: 11, stepped: 'middle', pointRadius: 0, spanGaps: false }
      ]
    },
    options: {
      responsive: false,
      devicePixelRatio: 1,
      animation: false,
      events: [],
      layout: { padding: 0 },
      font: { family: FONT },
      plugins: {
        legend: { display: false },
        tooltip: { enabled: false },
        decor: Object.assign({ p: p, letter: letter }, extra)
      },
      scales: {
        x: {
          type: 'linear', position: 'bottom', min: 0, max: genomeLen,
          ticks: { display: false },
          grid: { display: true, drawOnChartArea: false, drawTicks: false },
          border: { color: '#1a1a1a', width: 8, z: 1 },
          afterFit(s) { s.height = H - areaBottom; }
        },
        xTop: {
          type: 'linear', position: 'top', min: 0, max: genomeLen,
          afterBuildTicks(s) { s.ticks = chrCenters.map(v => ({ value: v })); },
          ticks: { autoSkip: false, maxRotation: 0, color: '#000', padding: 2,
                   font: { family: FONT, size: 70 }, callback: (v, i) => chrNames[i] },
          grid: { display: true, drawOnChartArea: false, drawTicks: false },
          border: { color: '#1a1a1a', width: 8, z: 1 },
          afterFit(s) { s.height = areaTop; }
        },
        y: {
          position: 'left', min: 0, max: lodMax[p],
          ticks: { stepSize: 1, includeBounds: false, autoSkip: false, color: BLUE, padding: 6,
                   font: { family: FONT, size: 66 } },
          grid: { drawOnChartArea: false, drawTicks: true, tickLength: 36, color: BLUE, lineWidth: 6 },
          border: { color: BLUE, width: 8, z: 1 },
          title: { display: true, text: 'LOD', color: BLUE, font: { family: FONT, size: 70 }, padding: { top: 7, bottom: 0 } },
          afterFit(s) { s.width = 203; }
        },
        y2: {
          position: 'right', min: 0, max: addMax[p],
          ticks: { stepSize: 1, includeBounds: false, autoSkip: false, color: PURPLE, padding: 6,
                   font: { family: FONT, size: 62 },
                   callback: v => (v <= addTickMax[p] ? v : null) },
          grid: { drawOnChartArea: false, drawTicks: true, tickLength: 28, color: PURPLE, lineWidth: 8 },
          border: { display: false },
          afterFit(s) { s.width = 4317 - 4106; }
        }
      }
    },
    plugins: [decor]
  });
}

makePanel('chartA', 0, 'A', lodA, redA, greenA, 95, 1269, { black: blackArrowsA });
makePanel('chartB', 1, 'B', lodB, redB, greenB, 113, 1287, { yellow: yellowArrowB });
makePanel('chartC', 2, 'C', lodC, redC, greenC, 134, 1304, { yellow: yellowArrowC });
</script>
</body>
</html>
